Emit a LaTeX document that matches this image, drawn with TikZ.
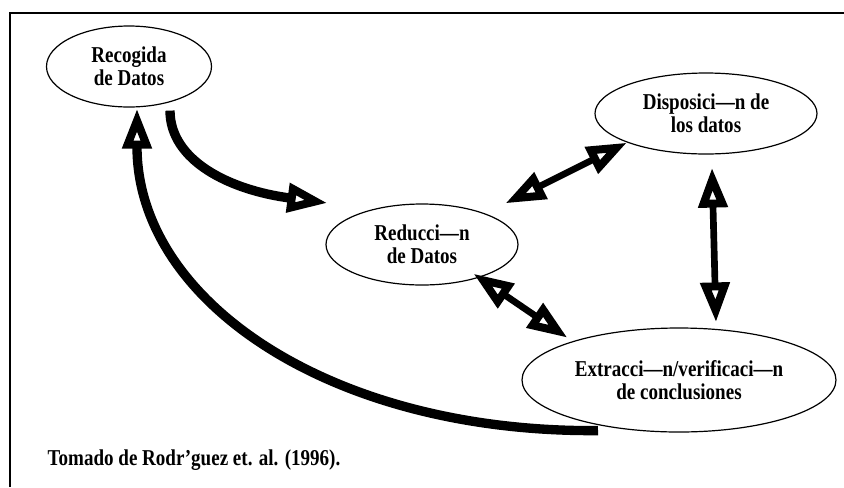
\documentclass[tikz,border=0pt]{standalone}
\usepackage{fontspec}
\setmainfont{Liberation Serif}[FakeStretch=0.84]
\usetikzlibrary{arrows.meta}
\usetikzlibrary{shapes.geometric}

\begin{document}
\begin{tikzpicture}[x=.75pt,y=-.75pt,
 texto/.style={font=\bfseries\fontsize{17}{17.25}\selectfont},
 etapa/.style={ellipse, draw, line width=.9pt, inner sep=0, align=center, texto},
 punta/.tip={Triangle[open,length=30pt,width=21pt,line width=6pt]},
 flecha/.style={line width=7pt, -punta},
 doble/.style={line width=5pt, punta-punta}]
\useasboundingbox (0,0) rectangle (844,487);
\draw[line width=1.5pt] (10,487) -- (10,13) -- (844,13);

\node[etapa, minimum width=123.75pt, minimum height=60.75pt] (reco) at (129,66.5) {Recogida\\de Datos};
\node[etapa, minimum width=144pt, minimum height=60.75pt] (redu) at (422,244.5) {Reducci—n\\de Datos};
\node[etapa, minimum width=166.5pt, minimum height=60.75pt] (disp) at (706,113.5) {Disposici—n de\\los datos};
\node[etapa, minimum width=235.5pt, minimum height=78pt] (extr) at (679,380) {Extracci—n/verificaci—n\\de conclusiones};
\node[texto, anchor=base west] (fuente) at (43,465) {Tomado de Rodr’guez et. al. (1996).};

\draw[flecha] ([shift={(41,3)}]reco.south) .. controls +(0,50) and +(-98,-13) .. ([shift={(2,-41.5)}]redu.west);
\draw[flecha] ([shift={(-81,-2)}]extr.south) .. controls +(-268,2) and +(0,192) .. ([shift={(8,1)}]reco.south);
\draw[doble] ([shift={(15,-12)}]redu.north east) -- (disp.south west);
\draw[doble] ([shift={(6,13)}]disp.south) -- ([shift={(37,-5)}]extr.north);
\draw[doble] ([shift={(-17,0)}]redu.south east) -- ([shift={(0,-5)}]extr.north west);
\end{tikzpicture}
\end{document}
